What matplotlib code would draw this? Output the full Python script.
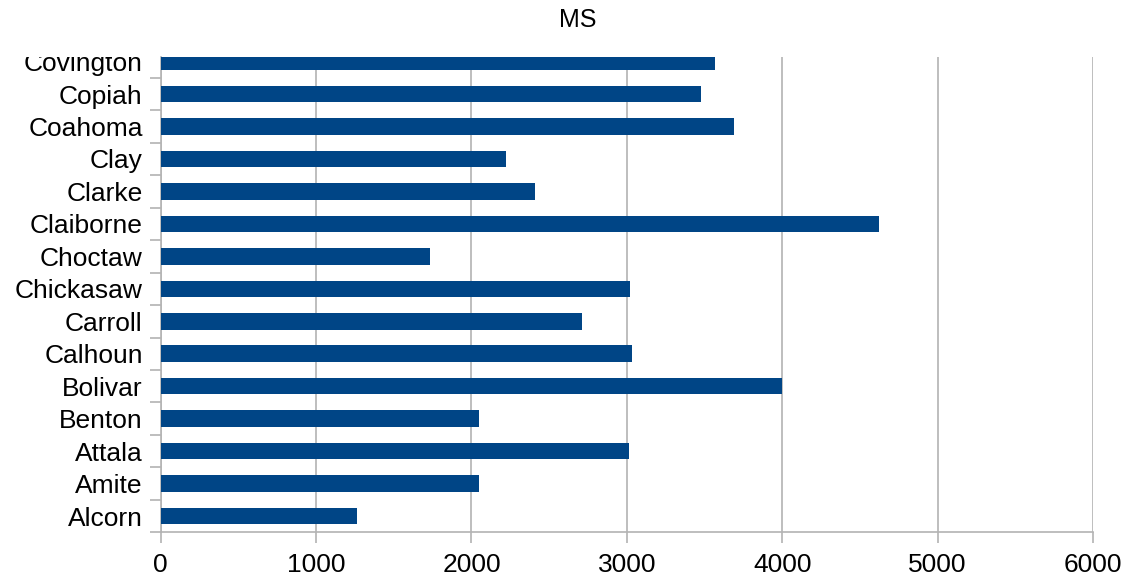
import matplotlib.pyplot as plt
import numpy as np
from matplotlib.transforms import Bbox, TransformedBbox

counties = ['Alcorn', 'Amite', 'Attala', 'Benton', 'Bolivar', 'Calhoun', 'Carroll',
            'Chickasaw', 'Choctaw', 'Claiborne', 'Clarke', 'Clay', 'Coahoma',
            'Copiah', 'Covington']
values = [1263, 2048, 3013, 2048, 3997, 3033, 2711,
          3020, 1733, 4621, 2409, 2222, 3689, 3477, 3567]

plt.rcParams['font.family'] = ['Liberation Sans', 'DejaVu Sans']
grey = '#b3b3b3'

fig = plt.figure(figsize=(11.26, 5.84), dpi=100)
ax = fig.add_axes([160.7 / 1126, 1 - 532.3 / 584, (1093 - 160.7) / 1126, (532.3 - 57) / 584])

y = np.arange(len(counties))
ax.barh(y, values, height=0.51, color='#004586', zorder=3)

ax.set_xlim(0, 6000)
ax.set_ylim(-0.5, 14.14)
ax.set_xticks(np.arange(0, 6001, 1000))
ax.set_yticks(y)
ax.set_yticklabels(counties)
ax.set_yticks(np.arange(-0.5, 14.5, 1), minor=True)

ax.grid(axis='x', color=grey, linewidth=1.2, zorder=0)
for s in ['top', 'right']:
    ax.spines[s].set_visible(False)
for s in ['left', 'bottom']:
    ax.spines[s].set_color(grey)
    ax.spines[s].set_linewidth(1.2)

ax.tick_params(axis='y', which='major', length=0, pad=13, labelsize=19)
ax.tick_params(axis='y', which='minor', length=7.7, color=grey, width=1.2)
ax.tick_params(axis='x', length=8, color=grey, width=1.2, pad=7, labelsize=19)

# the top label is cut off at the plot top, as in the source image
clip = TransformedBbox(Bbox([[0, 0], [1, 1 - 57 / 584]]), fig.transFigure)
for lab in ax.get_yticklabels():
    lab.set_clip_box(clip)
    lab.set_clip_on(True)

fig.text(578 / 1126, 1 - 20 / 584, 'MS', ha='center', va='center', fontsize=18)

fig.savefig('out.png', dpi=100)
